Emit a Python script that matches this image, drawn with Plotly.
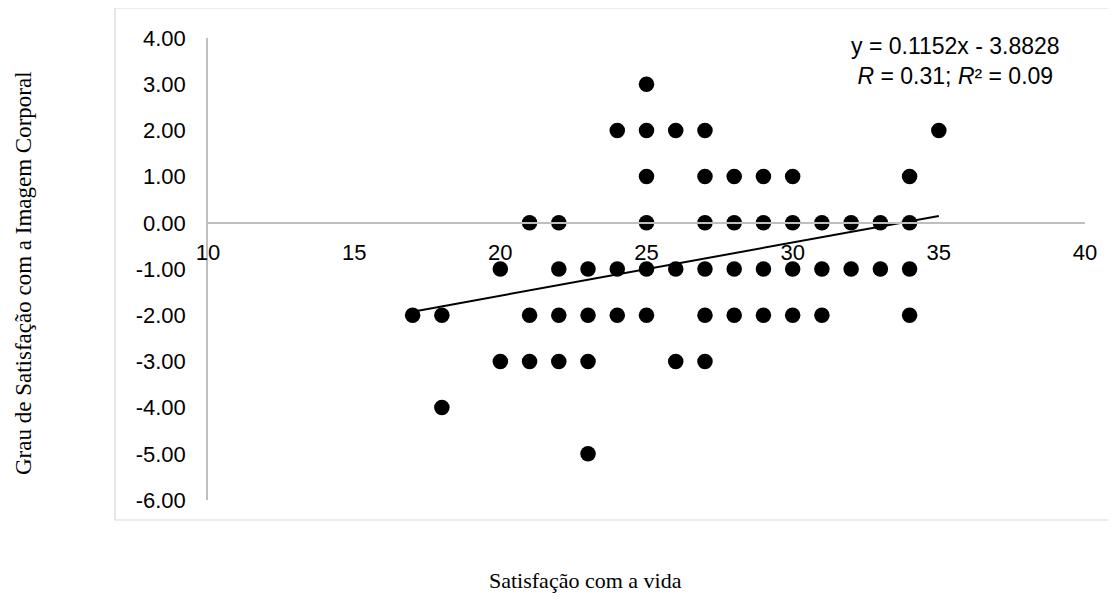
import plotly.graph_objects as go

# Data (x = Satisfação com a vida, y = Grau de Satisfação com a Imagem Corporal)
x_vals = [25,
          24, 25, 26, 27, 35,
          25, 27, 28, 29, 30, 34,
          21, 22, 25, 27, 28, 29, 30, 31, 32, 33, 34,
          20, 22, 23, 24, 25, 26, 27, 28, 29, 30, 31, 32, 33, 34,
          17, 18, 21, 22, 23, 24, 25, 27, 28, 29, 30, 31, 34,
          20, 21, 22, 23, 26, 27,
          18,
          23]
y_vals = [3,
          2, 2, 2, 2, 2,
          1, 1, 1, 1, 1, 1,
          0, 0, 0, 0, 0, 0, 0, 0, 0, 0, 0,
          -1, -1, -1, -1, -1, -1, -1, -1, -1, -1, -1, -1, -1, -1,
          -2, -2, -2, -2, -2, -2, -2, -2, -2, -2, -2, -2, -2,
          -3, -3, -3, -3, -3, -3,
          -4,
          -5]

slope = 0.1152
intercept = -3.8828
trend_x = [min(x_vals), max(x_vals)]
trend_y = [slope * v + intercept for v in trend_x]

x_ticks = [10, 15, 20, 25, 30, 35, 40]
y_ticks = [4, 3, 2, 1, 0, -1, -2, -3, -4, -5, -6]
y_ticktext = [f"{v:.2f}" for v in y_ticks]

eq_text = "y = 0.1152x - 3.8828<br><i>R</i> = 0.31; <i>R</i>² = 0.09"
x_title = "Satisfação com a vida"
y_title = "Grau de Satisfação com a Imagem Corporal"

# screen geometry (page body has an 8px margin)
OFF = 8
SW, SH = 1116, 612
L, R, T, B = 208, 1085, 38, 500


def fx(px):
    return (px - L) / (R - L)


def fy(py):
    return (B - py) / (B - T)


fig = go.Figure()
fig.add_trace(go.Scatter(x=x_vals, y=y_vals, mode="markers",
                         marker=dict(color="black", size=15.5), showlegend=False,
                         hoverinfo="skip"))
fig.add_trace(go.Scatter(x=trend_x, y=trend_y, mode="lines",
                         line=dict(color="black", width=2), showlegend=False,
                         hoverinfo="skip"))

sans = "Liberation Sans, Arial, sans-serif"
serif = "Liberation Serif, Times New Roman, serif"
axis_font = dict(family=sans, size=22, color="#000000")
fig.update_layout(
    width=SW - OFF, height=SH - OFF,
    margin=dict(l=L - OFF, r=SW - R, t=T - OFF, b=SH - B, pad=0),
    paper_bgcolor="white", plot_bgcolor="white",
    xaxis=dict(range=[10, 40], tickvals=x_ticks, showgrid=False, zeroline=False,
               showline=True, linecolor="#bfbfbf", linewidth=1.5,
               anchor="free", position=0.6, ticks="", ticklabelstandoff=10,
               tickfont=axis_font, fixedrange=True),
    yaxis=dict(range=[-6, 4], tickvals=y_ticks, ticktext=y_ticktext, showgrid=False,
               zeroline=False, showline=True, linecolor="#bfbfbf", linewidth=1.5,
               ticks="", ticklabelstandoff=16, tickfont=axis_font, fixedrange=True),
    shapes=[dict(type="rect", xref="paper", yref="paper",
                 x0=fx(115), x1=fx(1114), y0=fy(520), y1=fy(8),
                 line=dict(color="#d9d9d9", width=1.2), fillcolor="rgba(0,0,0,0)",
                 layer="below")],
    annotations=[
        dict(text=eq_text, xref="paper", yref="paper",
             x=fx(955), y=fy(61), xanchor="center", yanchor="middle",
             showarrow=False, align="center",
             font=dict(family=sans, size=23, color="#000000")),
        dict(text=x_title, xref="paper", yref="paper",
             x=fx(585), y=fy(580), xanchor="center", yanchor="middle",
             showarrow=False, font=dict(family=serif, size=22, color="#000000")),
        dict(text=y_title, xref="paper", yref="paper", textangle=-90,
             x=fx(23), y=fy(273), xanchor="center", yanchor="middle",
             showarrow=False, font=dict(family=serif, size=23, color="#000000")),
    ],
)

fig.write_html("out.html")
